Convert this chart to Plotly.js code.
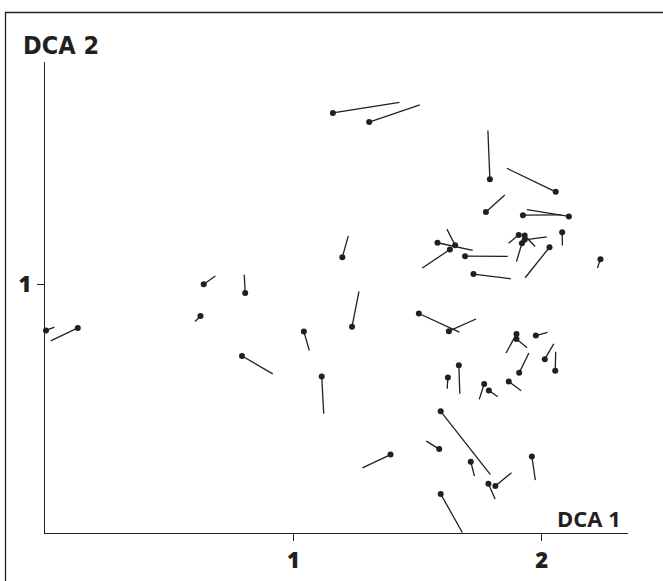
<!DOCTYPE html>
<html>
<head>
<meta charset="utf-8">
<script src="https://cdn.plot.ly/plotly-3.0.1.min.js"></script>
<style>html,body{margin:0;padding:0;background:#fff;}#chart{width:663px;height:581px;}</style>
</head>
<body>
<div id="chart"></div>
<script>
// Sample scores (point) and the end of each displacement segment
const xs = [0.004,0.132,0.639,0.806,0.626,1.042,0.793,1.114,1.159,1.305,
            1.791,2.056,1.775,1.924,2.109,2.082,2.236,1.197,1.907,1.931,
            1.920,1.931,1.580,1.651,1.630,1.691,1.725,2.031,1.236,1.505,
            1.626,1.898,1.898,1.976,2.012,2.054,1.909,1.622,1.666,1.768,
            1.787,1.867,1.593,1.587,1.391,1.714,1.785,1.813,1.960,1.593];
const ys = [0.816,0.826,1.002,0.967,0.874,0.812,0.713,0.630,1.692,1.655,
            1.425,1.374,1.293,1.280,1.275,1.211,1.103,1.111,1.200,1.198,
            1.167,1.181,1.169,1.159,1.142,1.115,1.043,1.151,0.831,0.884,
            0.813,0.801,0.781,0.795,0.700,0.653,0.645,0.626,0.676,0.600,
            0.574,0.610,0.490,0.338,0.316,0.287,0.198,0.189,0.308,0.157];
const xe = [0.038,0.023,0.686,0.802,0.604,1.064,0.917,1.122,1.427,1.509,
            1.783,1.859,1.851,2.078,1.940,2.083,2.224,1.221,1.866,1.973,
            1.898,2.020,1.722,1.618,1.519,1.863,1.875,1.933,1.264,1.668,
            1.735,1.856,1.941,2.023,2.048,2.056,1.948,1.619,1.670,1.748,
            1.823,1.917,1.793,1.535,1.278,1.729,1.812,1.878,1.974,1.680];
const ye = [0.829,0.774,1.035,1.040,0.852,0.735,0.641,0.480,1.734,1.724,
            1.621,1.469,1.361,1.281,1.302,1.158,1.067,1.197,1.167,1.154,
            1.093,1.193,1.138,1.224,1.067,1.114,1.024,1.028,0.973,0.809,
            0.862,0.725,0.746,0.808,0.762,0.730,0.725,0.581,0.561,0.538,
            0.549,0.573,0.235,0.370,0.262,0.229,0.137,0.243,0.213,0.002];
const xTicks = [1, 2];
const yTicks = [1];
const xTitle = 'DCA 1';
const yTitle = 'DCA 2';

const ink = '#231f20';
const segX = [], segY = [];
for (let i = 0; i < xs.length; i++) {
  segX.push(xs[i], xe[i], null);
  segY.push(ys[i], ye[i], null);
}

const traces = [
  {x: segX, y: segY, type: 'scatter', mode: 'lines',
   line: {color: ink, width: 1.3}, hoverinfo: 'skip', cliponaxis: false},
  {x: xs, y: ys, type: 'scatter', mode: 'markers',
   marker: {color: ink, size: 6}, hoverinfo: 'skip', cliponaxis: false}
];

const W = 663, H = 581, L = 45, R = 35, T = 62, B = 48;
const pw = W - L - R, ph = H - T - B;
const px = v => (v - L) / pw;
const py = v => (H - B - v) / ph;

const tickFont = {family: 'Open Sans, DejaVu Sans, sans-serif', size: 22, color: ink, weight: 800};

const layout = {
  width: W, height: H,
  margin: {l: L, r: R, t: T, b: B, pad: 0},
  paper_bgcolor: '#fff', plot_bgcolor: '#fff',
  showlegend: false,
  xaxis: {range: [0, 2.347], tickvals: xTicks, ticktext: xTicks.map(String),
          ticks: 'outside', ticklen: 7, tickwidth: 1, tickcolor: ink,
          showline: true, linecolor: ink, linewidth: 1.2, showgrid: false, zeroline: false,
          tickfont: tickFont},
  yaxis: {range: [0, 1.897], tickvals: yTicks, ticktext: yTicks.map(String),
          ticks: 'outside', ticklen: 7, tickwidth: 1, tickcolor: ink,
          showline: true, linecolor: ink, linewidth: 1.2, showgrid: false, zeroline: false,
          ticklabelstandoff: 1,
          tickfont: tickFont},
  annotations: [
    {text: yTitle, xref: 'paper', yref: 'paper', x: px(21), y: py(45),
     xanchor: 'left', yanchor: 'middle', showarrow: false,
     font: {family: 'Liberation Sans Narrow, DejaVu Sans Condensed, Open Sans, sans-serif', size: 25, color: ink, weight: 'bold'}},
    {text: xTitle, xref: 'paper', yref: 'paper', x: px(623), y: py(518),
     xanchor: 'right', yanchor: 'middle', showarrow: false,
     font: {family: 'Open Sans, DejaVu Sans, sans-serif', size: 22, color: ink, weight: 'bold'}}
  ],
  shapes: [
    {type: 'rect', xref: 'paper', yref: 'paper', x0: px(5.5), x1: px(700), y0: py(12.5), y1: py(620),
     line: {color: ink, width: 1.3}, fillcolor: 'rgba(0,0,0,0)', layer: 'above'}
  ]
};

Plotly.newPlot('chart', traces, layout, {staticPlot: true, displayModeBar: false});
</script>
</body>
</html>
